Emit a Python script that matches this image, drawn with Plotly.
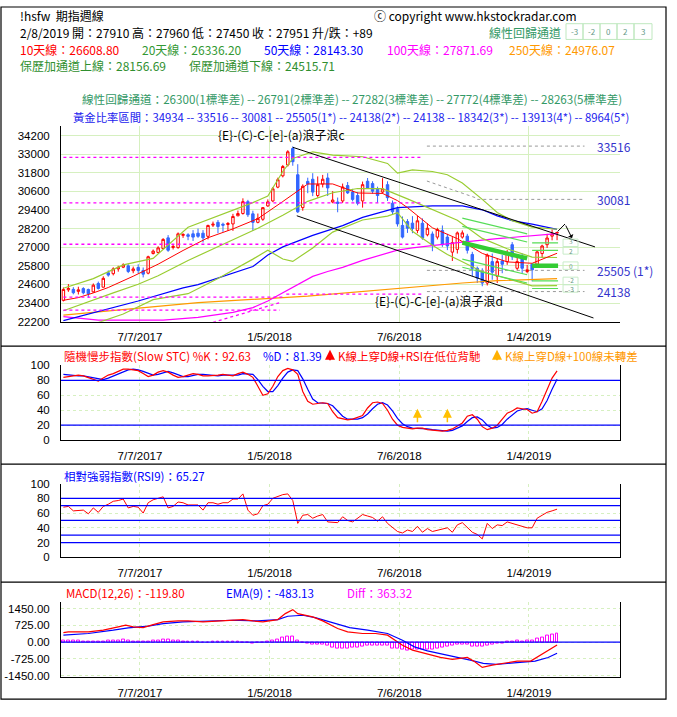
import plotly.graph_objects as go
import pandas as pd

W, H = 677, 717
START = pd.Timestamp('2017-03-17')

# ---------------- data ----------------
opens = [23575,24250,24280,24150,24330,24270,24120,24660,24420,25350,
         25290,25600,25710,25795,25480,25690,25500,25325,26590,26660,
         26910,27600,26980,26970,27760,27800,27860,27900,27900,27700,
         28420,28600,28480,28460,28500,29025,29170,29934,29150,28600,
         28800,29660,29980,30870,31600,32300,33360,31670,29550,31240,
         31380,30330,31070,31460,29910,29910,29980,30970,30550,30330,
         29980,31250,31100,30760,30550,31030,29830,29480,28400,28650,
         28550,28080,28540,27800,27850,27650,28080,27650,26680,26860,
         27650,27710,26530,25640,25430,24690,26070,25120,26110,26070,
         27160,25640,26280,25430,25900,25900,26590,27160,27710,27910]
highs = [24400,24620,24420,24450,24420,24330,24660,24780,25120,25500,
         25700,25800,25960,25900,25750,25900,25690,26450,26850,27060,
         27580,27780,27150,27950,27900,27900,28100,28200,28100,28450,
         28650,28750,28580,28620,29150,29360,30150,30050,29350,29170,
         29580,30080,30880,31480,32300,33250,33490,32350,31050,31480,
         31770,31560,31660,31770,30610,30200,31100,31200,30760,30550,
         31230,31460,31250,30900,31450,31250,30010,29630,28980,28810,
         29000,29020,28860,28540,28010,28250,28400,27860,27650,28010,
         28080,27860,26700,25750,25640,26590,26590,26280,26490,26810,
         27330,26300,26600,25860,25970,26810,27160,27860,28140,27960]
lows = [23500,24120,23960,23950,23960,23750,24060,24270,24400,25100,
        25180,25420,25650,25330,25320,25320,25050,25250,26530,26600,
        26880,26700,26850,26900,27600,27450,27400,27600,27300,27500,
        28300,27900,27990,28060,28050,28990,29100,28950,28050,28540,
        28700,29600,29900,30800,31500,32200,32250,29200,29350,30480,
        30290,30190,30850,30300,29830,29250,29850,30430,29950,29700,
        29550,30770,30450,29870,30450,29980,29130,28330,27560,27920,
        27900,27900,27480,27700,26740,27500,27020,26810,26110,26590,
        27550,26590,25120,24690,24480,24530,24900,24690,25320,25860,
        26170,25500,25320,25320,24800,25750,26300,26950,27440,27450]
closes = [24273,24340,24060,24250,24060,24000,24550,24340,24990,25200,
          25600,25700,25860,25433,25600,25500,25260,26384,26745,26955,
          27500,26800,27050,27860,27820,27700,27650,27700,27600,28400,
          28480,28330,28420,28530,28980,29170,29934,29090,28600,28856,
          29550,29920,30760,31350,32200,33150,32510,29280,30930,31075,
          30550,31030,31380,30820,30040,29820,30880,30500,30080,29830,
          31030,30820,30610,30330,30760,30190,29280,28500,27650,28220,
          28200,28700,27590,28220,27120,28140,27160,27080,27290,27920,
          27920,26800,25640,25010,24690,26490,25390,26070,25900,26590,
          26380,26070,25640,25540,25540,26700,27080,27590,27860,27951]

ma10_idx = [0,3,6,9,14,19,24,29,34,39,44,47,49,54,59,64,67,69,72,74,79,84,89,94,99]
ma10_val = [23575,23750,24050,24400,25127,25904,26787,27608,28179,28839,29943,30618,
            31073,31077,30493,30466,30000,29550,28800,28250,27550,26600,26050,25961,26608]

ma20_idx = [0,5,10,15,19,25,29,34,39,44,49,54,59,64,69,74,79,84,89,94,99]
ma20_val = [22900,23450,24050,24610,25155,26142,26756,27483,28224,29061,29956,30510,
            30783,30771,30116,29417,28740,27566,26896,26363,26336]

bb_idx = [0,6,12,18,25,31,38,41,44,46,50,54,60,65,67,70,74,77,80,84,87,90,94,99]
bb_up = [24350,24970,25857,26280,28285,29025,29870,30300,31880,32720,33150,32930,
         32830,32400,31770,31980,31880,31670,31140,30080,29240,28710,28290,28156]
bb_dn = [21450,22030,22690,23620,24000,24975,26230,26800,26240,26080,26950,27970,
         28750,29000,29230,28020,27120,26530,26060,25420,25160,24890,24510,24515]

ma50_idx = [0,15,24,27,38,41,44,50,54,56,60,65,67,74,80,84,87,90,94,99]
ma50_val = [22260,23530,24374,24590,25750,26490,27020,27760,28180,28390,28920,29340,
            29550,29660,29660,29410,29020,28710,28490,28143]

ma100_idx = [0,7,20,27,34,38,41,44,47,50,53,56,60,64,67,70,74,80,87,94,99]
ma100_val = [22520,22300,22300,22470,22800,23100,23530,24057,24600,25116,25430,25700,
             26150,26550,26810,26950,27120,27330,27550,27760,27871]

ma250_idx = [0,27,49,53,56,67,75,80,87,99]
ma250_val = [22620,23420,23850,23960,24057,24374,24590,24690,24840,24976]

# dotted magenta levels: value, from week, to week
pink_lvls = [32786, 29850, 27190, 23785, 23970, 22940]
pink_from = [0, 0, 0, 0, 44.7, 0]
pink_to = [72, 72, 72, 44, 72, 43.4]
pink_rise_idx = [30, 43.4]
pink_rise_val = [22155, 23423]

# golden ratio levels (grey dotted) and labels
gold_lvls = [33516, 30081, 25505, 24138]
gold_from = [72.9, 83, 72.9, 72.9]
gold_labels = ['33516', '30081', '25505 (1*)', '24138']
gold_diag_idx = [72.9, 83]
gold_diag_val = [31265, 30150]

# black regression channel
chan_up_idx = [46, 106.6]
chan_up_val = [33440, 27018]
chan_dn_idx = [46.8, 106.3]
chan_dn_val = [29027, 22435]

# green regression channels
g1_idx = [80, 93]
g1_mid = [27290, 26276]
g1_sig = 528
g2_idx = [94, 99.2]
g2_mid = [25809, 25809]
g2_sig = 491
g_offsets = [3, 2, -2, -3]
g_labels = ['3', '2', '0', '-2', '-3']
g_label_mult = [3, 2, 0, -2, -3]
g_label_shift = [2, -1, 0, 1, -1]

stoch_k = [84,85,86,87,86,84,82,79,83,87,89,92,95,95,94,93,89,85,87,91,
           93,91,87,84,85,87,89,88,86,86,86,87,88,87,86,89,91,88,84,72,
           60,62,72,85,93,96,94,88,65,52,48,49,50,49,38,30,28,27,28,30,
           33,43,50,51,49,40,28,20,17,16,15,16,16,14,13,12,12,13,15,19,
           23,32,34,28,18,14,16,20,28,36,39,43,42,41,36,38,52,68,83,92.63]
stoch_d = [88,87,86,86,86,85,84,82,81,83,86,89,92,94,95,94,92,89,87,88,
           90,92,90,87,85,85,87,88,88,87,86,86,87,87,87,87,89,89,88,81,
           72,65,65,73,83,91,94,93,82,68,55,50,49,49,46,39,32,28,28,28,
           30,35,42,48,50,47,39,29,22,18,16,16,16,15,14,13,12,12,13,16,
           19,25,30,31,27,20,16,17,21,28,34,39,41,42,40,38,42,53,68,81.39]
stoch_arrows = [71, 77]

rsi9 = [68,69,63,64,64,59,67,61,69,72,76,77,79,67,69,68,60,74,78,80,
        82,67,69,75,74,71,71,71,64,74,74,72,74,74,79,79,86,64,57,59,
        70,72,80,83,85,86,77,46,57,58,53,56,58,48,47,47,55,50,48,53,
        58,56,54,49,55,46,40,35,33,37,35,42,34,39,35,37,39,40,34,44,
        47,40,34,31,25,46,39,44,43,48,46,45,42,40,40,53,57,61,63,65.27]

macd_idx = [0,1,5,8,11,12.5,14,16,18,20,23,25,28,31,33,36,38,40,43,44.5,46,47,50,52,55,
            57,60,62.6,65,68,70,73,75.6,78,81,82.5,84,86,88.6,91,93.7,96.3,99]
macd_val = [418,447,447,519,663,735,663,634,764,879,922,922,879,922,922,980,922,879,980,
            1239,1412,1239,1095,922,591,447,375,375,303,-130,-346,-519,-663,-749,-663,
            -850,-1095,-994,-893,-821,-821,-490,-119.8]
ema_idx = [0,5,10,13,17,20,24,29,34,39,43,45,48,50.5,54,57.4,61,65,68,70.4,73,76.5,79,
           81.6,84.2,86.8,89.4,92,94.6,97.2,99]
ema_val = [303,375,519,620,692,807,879,922,951,922,980,1124,1167,1066,836,634,519,375,86,
           -202,-375,-562,-663,-778,-922,-965,-922,-850,-821,-663,-483.13]
diff = [90,90,85,80,40,35,35,30,40,60,70,90,100,70,30,25,20,40,70,90,
        100,95,85,70,40,30,20,10,-20,-10,10,20,10,30,40,20,-10,-30,-40,-30,
        -20,10,50,120,200,260,260,60,-30,-60,-90,-90,-100,-150,-220,-270,-290,-280,-250,-220,
        -170,-140,-130,-140,-140,-150,-260,-290,-340,-350,-340,-330,-340,-330,-300,-260,-240,-200,-150,-120,
        -110,-120,-180,-210,-200,-150,-100,-80,-50,20,40,50,40,50,60,140,220,300,340,363.32]

x_tick_dates = ['2017-07-07', '2018-01-05', '2018-07-06', '2019-01-04']
x_tick_text = ['7/7/2017', '1/5/2018', '7/6/2018', '1/4/2019']
main_ticks = [22200, 23400, 24600, 25800, 27000, 28200, 29400, 30600, 31800, 33000, 34200]
osc_ticks = [0, 20, 40, 60, 80, 100]
macd_ticks = [-1450, -725, 0, 725, 1450]
macd_tick_text = ['-1450.00', '-725.00', '0.00', '725.00', '1450.00']

# ---------------- helpers ----------------
def wk(i):
    return START + pd.Timedelta(days=7 * i)

def px(x):
    return x / W

def py(y):
    return 1 - y / H

dates = [wk(i) for i in range(len(closes))]
fig = go.Figure()

def line(idx, vals, color, width=1.0, dash=None, xa='x', ya='y'):
    fig.add_trace(go.Scatter(x=[wk(i) for i in idx], y=vals, mode='lines',
                             line=dict(color=color, width=width, dash=dash),
                             xaxis=xa, yaxis=ya, hoverinfo='skip', showlegend=False))

YG = '#9acd32'
line(ma250_idx, ma250_val, '#ff9900', 1.2)
line(ma100_idx, ma100_val, '#ff00ff', 1.2)
line(ma50_idx, ma50_val, '#0000ff', 1.2)
line(bb_idx, bb_up, YG, 1.2)
line(bb_idx, bb_dn, YG, 1.2)
line(ma20_idx, ma20_val, YG, 1.2)
line(ma10_idx, ma10_val, '#ff0000', 1.0)

for v, a, b in zip(pink_lvls, pink_from, pink_to):
    line([a, b], [v, v], '#ff00ff', 1.3, 'dot')
line(pink_rise_idx, pink_rise_val, '#ff00ff', 1.3, 'dot')

for v, a in zip(gold_lvls, gold_from):
    line([a, 104.5], [v, v], '#999999', 1.0, 'dot')
line(gold_diag_idx, gold_diag_val, '#999999', 1.0, 'dot')

fig.add_trace(go.Candlestick(x=dates, open=opens, high=highs, low=lows, close=closes,
                             increasing=dict(line=dict(color='#ff0000', width=1), fillcolor='rgba(255,255,255,0)'),
                             decreasing=dict(line=dict(color='#3366ff', width=1), fillcolor='#3366ff'),
                             whiskerwidth=0, xaxis='x', yaxis='y', hoverinfo='skip', showlegend=False))

line(chan_up_idx, chan_up_val, '#000000', 1.0)
line(chan_dn_idx, chan_dn_val, '#000000', 1.0)

for gidx, gmid, gsig in [(g1_idx, g1_mid, g1_sig), (g2_idx, g2_mid, g2_sig)]:
    for k in g_offsets:
        line(gidx, [m + k * gsig for m in gmid], '#55dd55', 1.2)
    line(gidx, gmid, '#33cc33', 4.5)

line(range(len(stoch_k)), stoch_d, '#0000ff', 1.2, xa='x2', ya='y2')
line(range(len(stoch_k)), stoch_k, '#ff0000', 1.2, xa='x2', ya='y2')

line(range(len(rsi9)), rsi9, '#ff0000', 1.0, xa='x3', ya='y3')

fig.add_trace(go.Bar(x=dates, y=diff, width=4.0 * 86400000,
                     marker=dict(color='white', line=dict(color='#ff00ff', width=1)),
                     xaxis='x4', yaxis='y4', hoverinfo='skip', showlegend=False))
line(ema_idx, ema_val, '#0000ff', 1.2, xa='x4', ya='y4')
line(macd_idx, macd_val, '#ff0000', 1.2, xa='x4', ya='y4')

# ---------------- layout ----------------
GRID = '#d6f0c0'
TF = dict(family='Liberation Sans, Arial', size=11.5, color='black')
tickvals = [pd.Timestamp(d) - pd.Timedelta(days=4.5) for d in x_tick_dates]
xr = [wk(-0.48), wk(111.62)]

def xax(anchor, dash, match=True):
    d = dict(type='date', range=xr, tickvals=tickvals, ticktext=x_tick_text, showgrid=True,
             gridcolor=GRID, griddash=dash, zeroline=False, showline=True, linecolor='black',
             linewidth=1, ticks='', tickfont=TF, ticklabelstandoff=5, domain=[px(61), px(620)],
             anchor=anchor, fixedrange=True)
    if match:
        d['matches'] = 'x'
    return d

def yax(top, bot, rng, tv, tt, dash, mirror):
    return dict(domain=[py(bot), py(top)], range=rng, tickvals=tv, ticktext=tt, showgrid=True,
                gridcolor=GRID, griddash=dash, zeroline=False, showline=True, linecolor='black',
                linewidth=1, mirror=mirror, ticks='', tickfont=TF, ticklabelstandoff=8, fixedrange=True)

fig.update_layout(
    width=W, height=H, margin=dict(l=0, r=0, t=0, b=0), paper_bgcolor='white', plot_bgcolor='white',
    showlegend=False, hovermode=False, bargap=0,
    xaxis=dict(**xax('y', 'solid', False), rangeslider=dict(visible=False)),
    yaxis=yax(122, 321, [22200, 34815], main_ticks, [str(v) for v in main_ticks], 'solid', False),
    xaxis2=xax('y2', 'dot'),
    yaxis2=yax(365.5, 441.5, [0, 100], osc_ticks, [str(v) for v in osc_ticks], 'dot', True),
    xaxis3=xax('y3', 'dot'),
    yaxis3=yax(485.7, 560.7, [0, 100], osc_ticks, [str(v) for v in osc_ticks], 'dot', True),
    xaxis4=xax('y4', 'dot'),
    yaxis4=yax(605.7, 682.5, [-1514, 1761], macd_ticks, macd_tick_text, 'dot', True),
)

shapes = []
for ya, vals in [('y2', [80, 20]), ('y3', [80, 70, 50, 30, 20]), ('y4', [0])]:
    xd = ya.replace('y', 'x') + ' domain'
    for v in vals:
        shapes.append(dict(type='line', xref=xd, yref=ya, x0=0, x1=1, y0=v, y1=v,
                           line=dict(color='#0000ff', width=1.3)))
shapes.append(dict(type='rect', xref='paper', yref='paper', x0=px(1), x1=px(666), y0=py(705), y1=py(1),
                   line=dict(color='black', width=1.2)))
for yy in [346, 466, 586]:
    shapes.append(dict(type='line', xref='paper', yref='paper', x0=px(1), x1=px(666), y0=py(yy), y1=py(yy),
                       line=dict(color='black', width=1.2)))
bx = [566, 583, 600, 617, 634, 652]
for a, b in zip(bx[:-1], bx[1:]):
    shapes.append(dict(type='rect', xref='paper', yref='paper', x0=px(a), x1=px(b), y0=py(34), y1=py(18),
                       line=dict(color='#bfe8bf', width=1)))
# boxes round the recent channel labels
for m in g_label_mult:
    v = g2_mid[-1] + m * g2_sig
    shapes.append(dict(type='rect', xref='x', yref='y', x0=wk(100.2), x1=wk(103.2),
                       y0=v - 240, y1=v + 240, line=dict(color='#c8ecc8', width=1)))
shapes.append(dict(type='line', xref='paper', yref='paper', x0=px(557.7), y0=py(229.3), x1=px(565), y1=py(221.7),
                   line=dict(color='black', width=1)))
fig.update_layout(shapes=shapes)

ann = []
CJK = 'Noto Sans CJK TC'

def txt(x, y, s, color='black', size=12, anchor='left'):
    ann.append(dict(xref='paper', yref='paper', x=px(x), y=py(y), text=s, showarrow=False,
                    xanchor=anchor, yanchor='middle', font=dict(family=CJK, size=size, color=color)))

txt(18, 10, '!hsfw  期指週線')
txt(372, 10, 'ⓒ copyright www.hkstockradar.com')
txt(18, 27, '2/8/2019 開：27910 高：27960 低：27450 收：27951 升/跌：+89')
txt(487, 27, '線性回歸通道', '#339966')
for lab, a, b in zip(['-3', '-2', '0', '2', '3'], bx[:-1], bx[1:]):
    txt((a + b) / 2, 26, lab, '#669988', 8, 'center')
txt(18, 44, '10天線：26608.80', '#ff0000')
txt(140, 44, '20天線：26336.20', '#339933')
txt(262, 44, '50天線：28143.30', '#0000ff')
txt(385, 44, '100天線：27871.69', '#ff00ff')
txt(507, 44, '250天線：24976.07', '#ff9900')
txt(18, 61, '保歷加通道上線：28156.69', '#2f8f2f')
txt(187, 61, '保歷加通道下線：24515.71', '#2f8f2f')
txt(80, 95, '線性回歸通道：26300(1標準差) -- 26791(2標準差) -- 27282(3標準差) -- 27772(4標準差) -- 28263(5標準差)',
    '#339966', 11.6)
txt(71, 113, '黃金比率區間：34934 -- 33516 -- 30081 -- 25505(1*) -- 24138(2*) -- 24138 -- 18342(3*) -- 13913(4*) -- 8964(5*)',
    '#2222ee', 11.35)
txt(216, 131, '{E}-(C)-C-[e]-(a)浪子浪c')
txt(373, 300, '{E}-(C)-C-[e]-(a)浪子浪d')
for lab, yy in zip(gold_labels, [143, 197, 269, 290]):
    txt(595, yy, lab, '#3333cc')
for lab, m, sh in zip(g_labels, g_label_mult, g_label_shift):
    ann.append(dict(xref='x', yref='y', x=wk(101.7), y=g2_mid[-1] + m * g2_sig, yshift=sh, text=lab,
                    showarrow=False, xanchor='center', yanchor='middle',
                    font=dict(family=CJK, size=6.5, color='#669988')))
SH = 11.5
txt(62, 356, '隨機慢步指數(Slow STC) %K：92.63', '#ff0000', SH)
txt(261, 356, '%D：81.39', '#0000ff', SH)
txt(336, 356, 'K線上穿D線+RSI在低位背馳', '#ff0000', SH)
txt(503, 356, 'K線上穿D線+100線未轉差', '#ff9900', SH)
for xx, col in [(330, '#ff0000'), (497, '#ffb000')]:
    ann.append(dict(xref='paper', yref='paper', x=px(xx), y=py(349.5), ax=0, ay=12, text='',
                    showarrow=True, arrowhead=2, arrowsize=1, arrowwidth=2, arrowcolor=col))
txt(62, 478, '相對強弱指數(RSI9)：65.27', '#0000ff', SH)
txt(64, 597, 'MACD(12,26)：-119.80', '#ff0000', SH)
txt(224, 597, 'EMA(9)：-483.13', '#0000ff', SH)
txt(345, 597, 'Diff：363.32', '#ff00ff', SH)

for i in stoch_arrows:
    ann.append(dict(xref='x2', yref='y2', axref='x2', ayref='y2', x=wk(i), y=42, ax=wk(i), ay=22,
                    showarrow=True, arrowhead=2, arrowsize=1.2, arrowwidth=1.5, arrowcolor='#ffc000', text=''))
ann.append(dict(xref='paper', yref='paper', x=px(572), y=py(236), ax=-7, ay=-14,
                showarrow=True, arrowhead=1, arrowwidth=1, arrowcolor='black', text=''))
fig.update_layout(annotations=ann)

fig.write_html('out.html')
